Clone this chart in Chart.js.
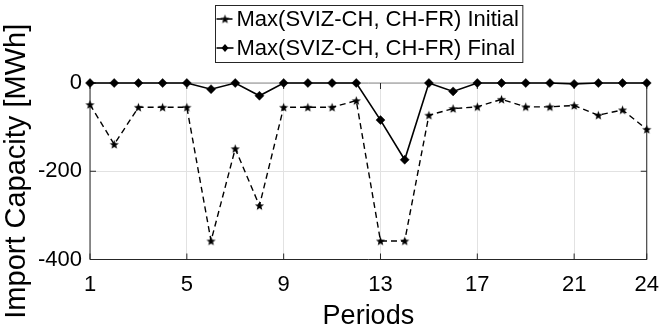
<!DOCTYPE html>
<html lang="en">
<head>
  <meta charset="UTF-8">
  <title>Import Capacity</title>
  <script src="https://cdn.jsdelivr.net/npm/chart.js"></script>
  <style>
    html, body { margin: 0; padding: 0; background: #fff; }
    #wrap { width: 671px; height: 333px; }
  </style>
</head>
<body>
<div id="wrap"><canvas id="chart" width="671" height="333"></canvas></div>
<script>
  const periods = [1, 2, 3, 4, 5, 6, 7, 8, 9, 10, 11, 12, 13, 14, 15, 16, 17, 18, 19, 20, 21, 22, 23, 24];
  const initialCap = [-49, -139, -55, -55, -55, -358, -149, -278, -55, -55, -55, -40,
                      -358, -358, -73, -58, -54, -37, -54, -54, -51, -73, -61, -105];
  const finalCap = [0, 0, 0, 0, 0, -14, 0, -29, 0, 0, 0, 0,
                    -84, -174, 0, -19, 0, 0, 0, 0, -2, 0, 0, 0];
  const xTicks = [1, 5, 9, 13, 17, 21, 24];
  const yTicks = [-400, -200, 0];
  const seriesNames = ['Max(SVIZ-CH, CH-FR) Initial', 'Max(SVIZ-CH, CH-FR) Final'];

  const FONT = '"Liberation Sans", Arial, Helvetica, sans-serif';
  const AXIS = '#262626';
  const GRID = '#e2e2e2';

  // filled five point star, used as marker for the initial series
  function makeStar(r) {
    const s = 11;
    const c = document.createElement('canvas');
    c.width = s; c.height = s;
    const g = c.getContext('2d');
    g.translate(s / 2, s / 2 + 0.4);
    g.beginPath();
    for (let i = 0; i < 10; i++) {
      const rr = i % 2 ? r * 0.42 : r;
      const a = -Math.PI / 2 + i * Math.PI / 5;
      g.lineTo(rr * Math.cos(a), rr * Math.sin(a));
    }
    g.closePath();
    g.fillStyle = '#000';
    g.fill();
    return c;
  }
  const star = makeStar(4.8);

  // box, grid edge and inward ticks like a matlab axes
  const frame = {
    id: 'frame',
    beforeDatasetsDraw(chart) {
      const { ctx, chartArea: a } = chart;
      const xs = chart.scales.x, ys = chart.scales.y;
      ctx.save();
      ctx.lineWidth = 1;
      ctx.strokeStyle = '#8c8c8c';
      ctx.beginPath();
      ctx.moveTo(a.left, a.top); ctx.lineTo(a.right, a.top);
      ctx.stroke();
      ctx.strokeStyle = AXIS;
      ctx.beginPath();
      ctx.moveTo(a.left, a.top); ctx.lineTo(a.left, a.bottom);
      ctx.lineTo(a.right, a.bottom); ctx.lineTo(a.right, a.top);
      for (const v of xTicks) {
        const px = xs.getPixelForValue(v);
        ctx.moveTo(px, a.bottom); ctx.lineTo(px, a.bottom - 6);
        ctx.moveTo(px, a.top); ctx.lineTo(px, a.top + 6);
      }
      for (const v of yTicks) {
        const py = ys.getPixelForValue(v);
        ctx.moveTo(a.left, py); ctx.lineTo(a.left + 6, py);
        ctx.moveTo(a.right, py); ctx.lineTo(a.right - 6, py);
      }
      ctx.stroke();
      ctx.restore();
    }
  };

  // boxed legend with two stacked rows
  const boxLegend = {
    id: 'boxLegend',
    afterDraw(chart) {
      const { ctx, chartArea: a } = chart;
      ctx.save();
      ctx.font = '22px ' + FONT;
      const tw = Math.max(...seriesNames.map(n => ctx.measureText(n).width));
      const boxW = 21 + tw + 4, boxH = 57;
      const bx = Math.round((a.left + a.right) / 2 - boxW / 2) + 0.5;
      const by = 5.5;
      ctx.fillStyle = '#fff';
      ctx.fillRect(bx, by, boxW, boxH);
      ctx.strokeStyle = AXIS;
      ctx.lineWidth = 1;
      ctx.strokeRect(bx, by, boxW, boxH);
      chart.data.datasets.forEach((ds, i) => {
        const yy = by + 13.5 + i * 29;
        ctx.strokeStyle = '#000';
        ctx.lineWidth = ds.borderWidth;
        ctx.setLineDash(ds.borderDash || []);
        ctx.beginPath();
        ctx.moveTo(bx + 1, yy); ctx.lineTo(bx + 18, yy);
        ctx.stroke();
        ctx.setLineDash([]);
        const mx = bx + 9.5;
        if (ds.pointStyle === 'rectRot') {
          ctx.fillStyle = '#000';
          ctx.beginPath();
          ctx.moveTo(mx, yy - 4); ctx.lineTo(mx + 3.5, yy);
          ctx.lineTo(mx, yy + 4); ctx.lineTo(mx - 3.5, yy);
          ctx.closePath(); ctx.fill();
        } else {
          ctx.drawImage(star, mx - star.width / 2, yy - star.height / 2);
        }
        ctx.fillStyle = '#000';
        ctx.textBaseline = 'middle';
        ctx.textAlign = 'left';
        ctx.fillText(ds.label, bx + 21, yy + 1);
      });
      ctx.restore();
    }
  };

  new Chart(document.getElementById('chart'), {
    type: 'line',
    data: {
      datasets: [
        {
          label: seriesNames[0],
          data: periods.map((p, i) => ({ x: p, y: initialCap[i] })),
          borderColor: '#000',
          borderWidth: 1.4,
          borderDash: [6, 4],
          pointStyle: star,
          pointRadius: 4,
          clip: false
        },
        {
          label: seriesNames[1],
          data: periods.map((p, i) => ({ x: p, y: finalCap[i] })),
          borderColor: '#000',
          borderWidth: 1.6,
          pointStyle: 'rectRot',
          pointRadius: 4.5,
          pointBackgroundColor: '#000',
          pointBorderColor: '#000',
          pointBorderWidth: 0.5,
          clip: false
        }
      ]
    },
    options: {
      responsive: false,
      animation: false,
      devicePixelRatio: 1,
      layout: { padding: { top: 83, right: 15, bottom: 0, left: 0 } },
      plugins: { legend: { display: false }, tooltip: { enabled: false } },
      scales: {
        x: {
          type: 'linear',
          min: 1,
          max: 24,
          afterBuildTicks: s => { s.ticks = xTicks.map(v => ({ value: v })); },
          afterFit: s => { s.height = 73.5; },
          grid: { color: GRID, drawTicks: false },
          border: { display: false },
          ticks: { color: '#000', padding: 12, font: { family: FONT, size: 22 }, maxRotation: 0 },
          title: { display: true, text: 'Periods', color: '#000', padding: { top: 0, bottom: 0 }, font: { family: FONT, size: 27 } }
        },
        y: {
          min: -400,
          max: 0,
          afterBuildTicks: s => { s.ticks = yTicks.map(v => ({ value: v })); },
          afterFit: s => { s.width = 90; },
          grid: { color: GRID, drawTicks: false },
          border: { display: false },
          ticks: { color: '#000', padding: 8, font: { family: FONT, size: 22 } },
          title: { display: true, text: 'Import Capacity [MWh]', color: '#000', padding: { top: 0, bottom: 0 }, font: { family: FONT, size: 29 } }
        }
      }
    },
    plugins: [frame, boxLegend]
  });
</script>
</body>
</html>
